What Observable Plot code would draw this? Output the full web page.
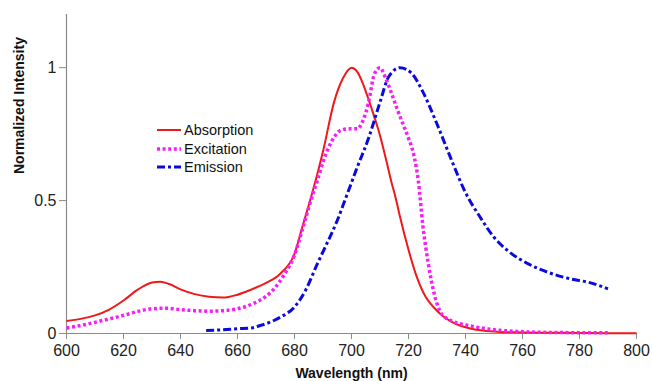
<!DOCTYPE html>
<html>
<head>
<meta charset="utf-8">
<script src="https://cdn.jsdelivr.net/npm/d3@7"></script>
<script src="https://cdn.jsdelivr.net/npm/@observablehq/plot@0.6"></script>
<style>
  html, body { margin: 0; padding: 0; background: white; }
  #wrap { position: relative; width: 652px; height: 381px; font-family: "Liberation Sans", Arial, sans-serif; }
  #legend { position: absolute; left: 157px; top: 121px; }
  .row { display: flex; align-items: center; height: 18.5px; font-size: 14.5px; color: #111; }
  .row svg { margin-right: 3px; }
</style>
</head>
<body>
<div id="wrap"></div>
<script>
// ---- data ----
const seriesNames = ["Absorption", "Excitation", "Emission"];
const seriesColors = ["#f01818", "#f81cf8", "#0a0ae0"];

const absWl  = [600,605,610,615,620,625,630,633,636,640,645,650,655,660,665,670,675,680,683,686,690,694,697,700,702,704,706,708,710,712,714,715.5,717,720,723,726,729,732,735,738,742,746,752,760,770,780,790,800];
const absVal = [0.047,0.055,0.068,0.09,0.124,0.165,0.192,0.195,0.186,0.166,0.148,0.138,0.135,0.146,0.166,0.19,0.225,0.30,0.41,0.52,0.685,0.875,0.96,1.0,0.985,0.94,0.88,0.815,0.745,0.66,0.57,0.51,0.44,0.315,0.21,0.138,0.097,0.066,0.045,0.03,0.018,0.011,0.006,0.004,0.003,0.002,0.001,0.001];

const excWl  = [600,605,610,615,620,625,630,635,640,645,650,655,660,665,670,673,676,680,683,686,688,690,692,694,696,699,702,704,706,708,710,712,714,716,718,720,722,723.5,725,727,729,731,733,735,738,741,746,752,758,764,770,780,790];
const excVal = [0.021,0.03,0.042,0.055,0.068,0.083,0.093,0.095,0.09,0.086,0.084,0.086,0.093,0.11,0.14,0.17,0.215,0.295,0.40,0.51,0.575,0.645,0.70,0.74,0.763,0.77,0.77,0.80,0.87,0.975,1.0,0.96,0.905,0.845,0.79,0.735,0.665,0.57,0.41,0.26,0.15,0.085,0.06,0.048,0.037,0.03,0.02,0.012,0.008,0.005,0.004,0.003,0.003];

const emWl  = [649,655,660,665,668,672,675,680,684,688,691,695,698,702,706,710,713,717,721,725,730,735,740,745,750,755,762,769,777,783,790];
const emVal = [0.011,0.014,0.018,0.021,0.03,0.045,0.061,0.10,0.165,0.262,0.33,0.425,0.51,0.625,0.735,0.87,0.965,1.0,0.98,0.91,0.788,0.655,0.53,0.44,0.362,0.31,0.262,0.23,0.205,0.193,0.168];

const xTicks = [600,620,640,660,680,700,720,740,760,780,800];
const yTicks = [0, 0.5, 1];
const yTickLabels = ["0", "0.5", "1"];
const xLabel = "Wavelength (nm)";
const yLabel = "Normalized Intensity";

// ---- build tables ----
const absData = absWl.map((w, i) => ({wl: w, v: absVal[i]}));
const excData = excWl.map((w, i) => ({wl: w, v: excVal[i]}));
const emData  = emWl.map((w, i) => ({wl: w, v: emVal[i]}));

const dashes = [null, "3 2.6", "8 3 3 3"];
const widths = [2, 3.5, 3];

const chart = Plot.plot({
  width: 652,
  height: 381,
  marginLeft: 66,
  marginRight: 16,
  marginTop: 14,
  marginBottom: 48,
  style: { fontFamily: "'Liberation Sans', Arial, sans-serif", fontSize: "16px", background: "white", color: "#222" },
  x: { domain: [600, 800] },
  y: { domain: [0, 1.2] },
  marks: [
    Plot.ruleY([0], { stroke: "#8a8a8a", strokeWidth: 1.2 }),
    Plot.ruleX([600], { stroke: "#8a8a8a", strokeWidth: 1.2 }),
    Plot.axisX({ ticks: xTicks, tickSize: 6, tickPadding: 5, label: null, stroke: "#8a8a8a", fill: "#222", tickFormat: d => String(d) }),
    Plot.axisY({ ticks: yTicks, tickSize: 7, tickPadding: 3, label: null, stroke: "#8a8a8a", fill: "#222", tickFormat: d => yTickLabels[yTicks.indexOf(d)] }),
    Plot.line(absData, { x: "wl", y: "v", stroke: seriesColors[0], strokeWidth: widths[0], curve: "monotone-x" }),
    Plot.line(excData, { x: "wl", y: "v", stroke: seriesColors[1], strokeWidth: widths[1], curve: "monotone-x" }),
    Plot.line(emData,  { x: "wl", y: "v", stroke: seriesColors[2], strokeWidth: widths[2], curve: "monotone-x" }),
    Plot.text([xLabel], { text: d => d, frameAnchor: "bottom", dy: 44, fontWeight: "bold", fontSize: 14, fill: "#111" }),
    Plot.text([yLabel], { text: d => d, frameAnchor: "left", dx: -47, rotate: -90, fontWeight: "bold", fontSize: 14, fill: "#111" })
  ]
});

// apply dash patterns directly to the rendered line paths
const linePaths = d3.select(chart).selectAll('g[aria-label="line"] path').nodes();
linePaths.forEach((p, i) => {
  if (dashes[i]) p.setAttribute("stroke-dasharray", dashes[i]);
  p.setAttribute("stroke-linecap", "butt");
});

const wrap = document.getElementById("wrap");
wrap.appendChild(chart);

// legend
const legend = document.createElement("div");
legend.id = "legend";
seriesNames.forEach((name, i) => {
  const row = document.createElement("div");
  row.className = "row";
  const dash = dashes[i] ? ` stroke-dasharray="${dashes[i]}"` : "";
  row.innerHTML = `<svg width="24" height="10"><line x1="0" y1="5" x2="24" y2="5" stroke="${seriesColors[i]}" stroke-width="${widths[i]}"${dash}/></svg><span>${name}</span>`;
  legend.appendChild(row);
});
wrap.appendChild(legend);
</script>
</body>
</html>
